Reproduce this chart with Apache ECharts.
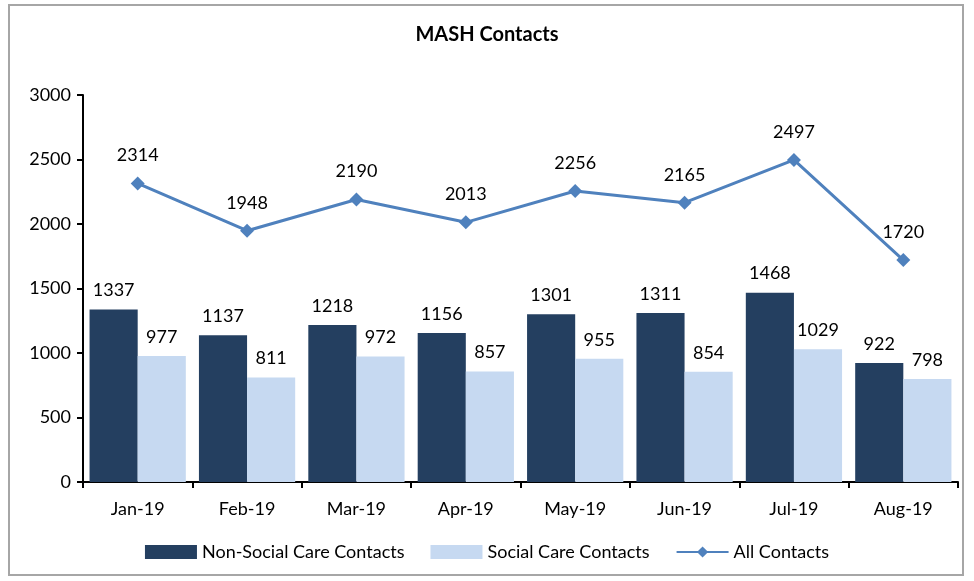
<!DOCTYPE html>
<html>
<head>
<meta charset="utf-8">
<script src="https://cdn.jsdelivr.net/npm/echarts@6/dist/echarts.min.js"></script>
<style>
  html, body { margin: 0; padding: 0; background: #fff; }
  #frame { position: absolute; left: 8px; top: 4px; width: 956px; height: 572px; border: 2px solid #a6a6a6; box-sizing: border-box; }
  #chart { width: 974px; height: 581px; }
</style>
</head>
<body>
<div id="frame"></div>
<div id="chart"></div>
<script>
const months = ['Jan-19', 'Feb-19', 'Mar-19', 'Apr-19', 'May-19', 'Jun-19', 'Jul-19', 'Aug-19'];
const nonSocial = [1337, 1137, 1218, 1156, 1301, 1311, 1468, 922];
const social = [977, 811, 972, 857, 955, 854, 1029, 798];
const allContacts = [2314, 1948, 2190, 2013, 2256, 2165, 2497, 1720];

const font = 'Lato, "Open Sans", sans-serif';
const chart = echarts.init(document.getElementById('chart'));

chart.setOption({
  animation: false,
  title: {
    text: 'MASH Contacts',
    left: 'center',
    top: 20,
    textStyle: { fontFamily: font, fontSize: 20, fontWeight: 'bold', color: '#000' }
  },
  legend: {
    bottom: 15,
    left: 'center',
    itemGap: 26,
    textStyle: { fontFamily: font, fontSize: 18, color: '#000' },
    data: [
      { name: 'Non-Social Care Contacts', icon: 'rect', itemStyle: { color: '#243F60' } },
      { name: 'Social Care Contacts', icon: 'rect', itemStyle: { color: '#C6D9F1' } },
      { name: 'All Contacts' }
    ],
    itemWidth: 52,
    itemHeight: 14
  },
  grid: { left: 83, right: 16, top: 95, bottom: 99 },
  xAxis: {
    type: 'category',
    data: months,
    axisLine: { lineStyle: { color: '#000', width: 2 } },
    axisTick: { show: true, length: 6, lineStyle: { color: '#000', width: 2 } },
    axisLabel: { fontFamily: font, fontSize: 18, color: '#000', margin: 18 }
  },
  yAxis: {
    type: 'value',
    min: 0,
    max: 3000,
    interval: 500,
    splitLine: { show: false },
    axisLine: { show: true, lineStyle: { color: '#000', width: 2 } },
    axisTick: { show: true, length: 6, lineStyle: { color: '#000', width: 2 } },
    axisLabel: { fontFamily: font, fontSize: 18, color: '#000', margin: 12, formatter: v => String(v) }
  },
  series: [
    {
      name: 'Non-Social Care Contacts',
      type: 'bar',
      data: nonSocial,
      barGap: '0%',
      barCategoryGap: '12%',
      itemStyle: { color: '#243F60' },
      label: { show: true, position: 'top', distance: 10, fontFamily: font, fontSize: 18, color: '#000' }
    },
    {
      name: 'Social Care Contacts',
      type: 'bar',
      data: social,
      itemStyle: { color: '#C6D9F1' },
      label: { show: true, position: 'top', distance: 10, fontFamily: font, fontSize: 18, color: '#000' }
    },
    {
      name: 'All Contacts',
      type: 'line',
      data: allContacts,
      symbol: 'diamond',
      symbolSize: 14,
      lineStyle: { color: '#4F81BD', width: 3 },
      itemStyle: { color: '#4F81BD' },
      label: { show: true, position: 'top', distance: 12, fontFamily: font, fontSize: 18, color: '#000' }
    }
  ]
});
</script>
</body>
</html>
